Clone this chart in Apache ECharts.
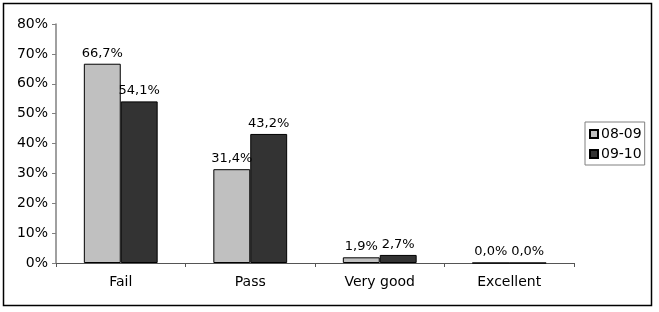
<!DOCTYPE html>
<html><head><meta charset="utf-8">
<script src="https://cdn.jsdelivr.net/npm/echarts@6/dist/echarts.min.js"></script>
<style>html,body{margin:0;padding:0;background:#fff}#c{width:659px;height:312px}</style>
</head><body><div id="c"></div>
<script>
var categories = ['Fail', 'Pass', 'Very good', 'Excellent'];
var seriesNames = ['08-09', '09-10'];
var values0809 = [66.7, 31.4, 1.9, 0.0];
var values0910 = [54.1, 43.2, 2.7, 0.0];
var yTicks = [0, 10, 20, 30, 40, 50, 60, 70, 80];

var FONT = 'DejaVu Sans';
var chart = echarts.init(document.getElementById('c'), null, {renderer: 'canvas'});
function fmt(p) { return p.value.toFixed(1).replace('.', ',') + '%'; }
function labelCfg(off) {
  return {show: true, position: 'top', distance: 4, offset: off, formatter: fmt, fontFamily: FONT, fontSize: 13, color: '#000'};
}
chart.setOption({
  animation: false,
  graphic: [{type: 'rect', shape: {x: 3.5, y: 3.5, width: 648, height: 302}, style: {fill: 'none', stroke: '#000', lineWidth: 1.5}, z: 100}],
  grid: {left: 56, right: 85, top: 24, bottom: 49, containLabel: false},
  legend: {
    orient: 'vertical', left: 585, top: 122, itemWidth: 8, itemHeight: 8, itemGap: 6,
    padding: [5, 3, 4, 4], borderColor: '#808080', borderWidth: 1, borderRadius: 0,
    textStyle: {fontFamily: FONT, fontSize: 14, color: '#000', padding: [0, 0, 0, -2]},
    icon: 'rect', data: seriesNames
  },
  xAxis: {
    type: 'category', data: categories,
    axisLine: {lineStyle: {color: '#555', width: 1}},
    axisTick: {show: true, length: 4, lineStyle: {color: '#555'}},
    axisLabel: {fontFamily: FONT, fontSize: 14, color: '#000', margin: 12}
  },
  yAxis: {
    type: 'value', min: 0, max: 80, interval: 10,
    axisLine: {show: true, lineStyle: {color: '#808080', width: 1.5}},
    axisTick: {show: true, length: 4, lineStyle: {color: '#808080'}},
    splitLine: {show: false},
    axisLabel: {fontFamily: FONT, fontSize: 14, color: '#000', margin: 8, formatter: function(v){return v + '%';}}
  },
  series: [
    {name: seriesNames[0], type: 'bar', data: values0809, barGap: '0%', barCategoryGap: '43%',
     itemStyle: {color: '#C0C0C0', borderColor: '#000', borderWidth: 1}, label: labelCfg([0, 0])},
    {name: seriesNames[1], type: 'bar', data: values0910,
     itemStyle: {color: '#333333', borderColor: '#000', borderWidth: 1}, label: labelCfg([0, 0])}
  ]
});
</script></body></html>
